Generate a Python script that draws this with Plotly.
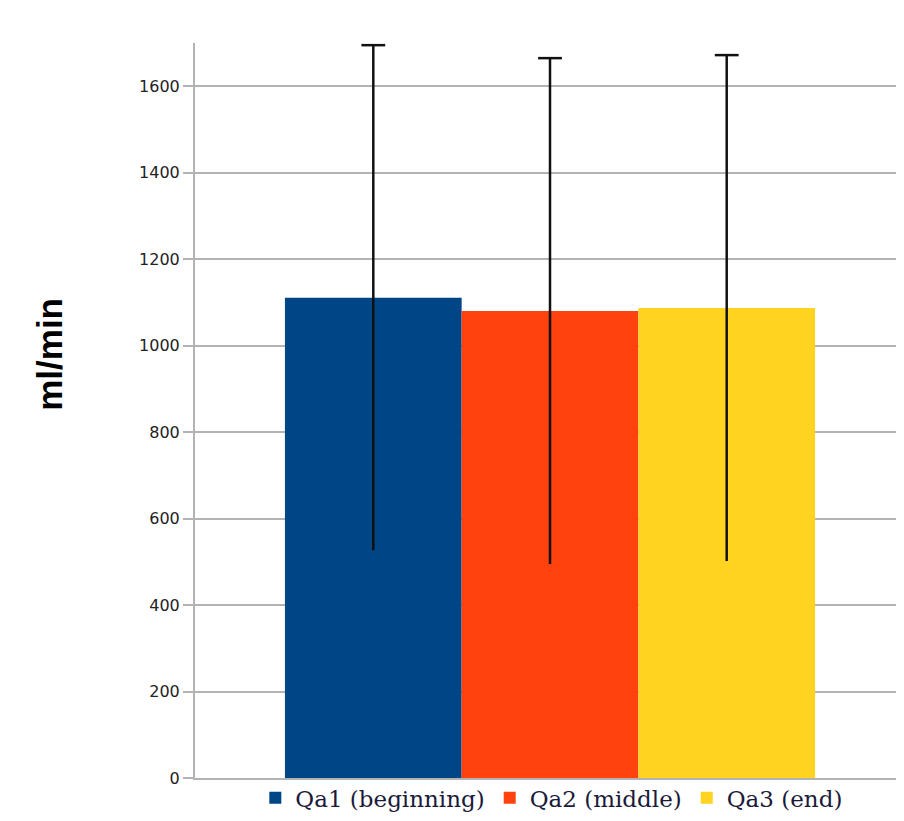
import plotly.graph_objects as go

series_names = ["Qa1 (beginning)", "Qa2 (middle)", "Qa3 (end)"]
series_values = [1111, 1080, 1087]
series_errors = [584, 585, 585]
series_colors = ["#004586", "#ff420e", "#ffd320"]
y_ticks = [0, 200, 400, 600, 800, 1000, 1200, 1400, 1600]

fig = go.Figure()
for i, (name, val, err, col) in enumerate(zip(series_names, series_values, series_errors, series_colors)):
    fig.add_trace(go.Bar(
        x=[i], y=[val], width=1, name=name, marker_color=col, marker_line_width=0,
        error_y=dict(type="data", array=[err], arrayminus=[err], width=0, thickness=2.5, color="#111111"),
    ))

# top caps only
fig.add_trace(go.Scatter(
    x=list(range(len(series_values))),
    y=[v + e for v, e in zip(series_values, series_errors)],
    mode="markers", showlegend=False, hoverinfo="skip",
    marker=dict(symbol="line-ew", size=17, line=dict(width=2.5, color="#111111")),
))

fig.update_layout(
    width=888, height=805,
    paper_bgcolor="white", plot_bgcolor="white",
    barmode="overlay",
    margin=dict(l=187, r=0, t=35, b=35, autoexpand=False),
    showlegend=True,
    legend=dict(orientation="h", x=0.509, xanchor="center",
                yref="container", y=0.019, yanchor="middle",
                bgcolor="rgba(0,0,0,0)",
                font=dict(family="DejaVu Serif", size=23, color="#1a1a3a"),
                itemwidth=30, tracegroupgap=0),
    xaxis=dict(range=[-1.009, 2.958], showticklabels=False, showgrid=False, zeroline=False,
               showline=True, linecolor="#b3b3b3", linewidth=2),
    yaxis=dict(range=[0, 1700], tickvals=y_ticks, ticktext=[str(t) for t in y_ticks],
               showgrid=True, gridcolor="#b3b3b3", gridwidth=1.5, zeroline=False,
               showline=True, linecolor="#b3b3b3", linewidth=2,
               ticks="outside", ticklen=10, tickcolor="#b3b3b3", tickwidth=2,
               tickfont=dict(family="DejaVu Sans", size=16, color="#222222")),
)

fig.add_annotation(text="<b>ml/min</b>", xref="paper", yref="paper", x=-0.207, y=0.577,
                   xanchor="center", yanchor="middle",
                   textangle=-90, showarrow=False,
                   font=dict(family="Liberation Sans", size=35, color="black"))

fig.write_html("out.html")
